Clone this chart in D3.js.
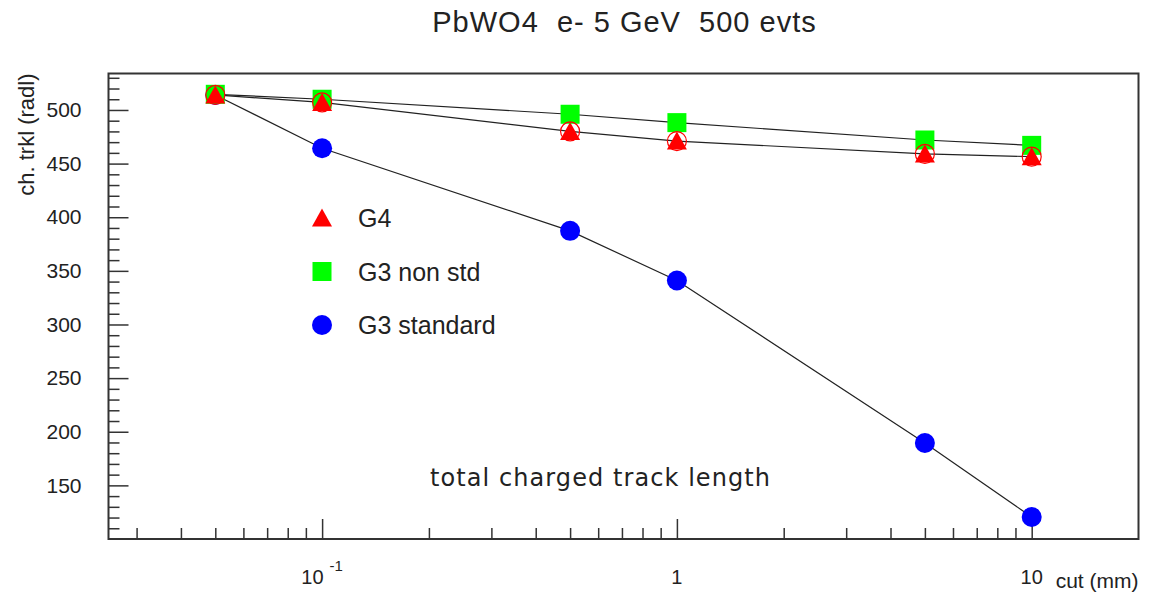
<!DOCTYPE html>
<html>
<head>
<meta charset="utf-8">
<script src="https://cdn.jsdelivr.net/npm/d3@7/dist/d3.min.js"></script>
<style>
  html, body { margin: 0; padding: 0; background: #fff; }
  svg { display: block; }
  text { font-family: "Liberation Sans", Arial, Helvetica, sans-serif; fill: #222; }
</style>
</head>
<body>
<svg id="chart" width="1151" height="595"></svg>
<script>
// Production cut (mm) for each simulation run
const cuts = [0.05, 0.1, 0.5, 1, 5, 10];

// Total charged track length (radiation lengths) per run
const g4 = [514, 507, 480, 471, 459, 456.5];
const g3NonStd = [514.6, 510, 496, 488.2, 472, 467];
const g3Standard = [514, 464.3, 387.3, 341, 189.5, 120.5];

// Axis ticks and labels
const yMajorTicks = [150, 200, 250, 300, 350, 400, 450, 500];
const yMinorTicks = d3.range(110, 531, 10).filter(v => v % 50 !== 0);
const xMajorTicks = [0.1, 1, 10];
const xMinorTicks = [0.03, 0.04, 0.05, 0.06, 0.07, 0.08, 0.09,
                     0.2, 0.3, 0.4, 0.5, 0.6, 0.7, 0.8, 0.9,
                     2, 3, 4, 5, 6, 7, 8, 9];
const xTickLabels = [{v: 0.1, base: "10", exp: "-1"}, {v: 1, base: "1", exp: ""}, {v: 10, base: "10", exp: ""}];

const legendItems = [
  {label: "G4", shape: "triangle", color: "#ff0000"},
  {label: "G3 non std", shape: "square", color: "#00ff00"},
  {label: "G3 standard", shape: "circle", color: "#0000ff"}
];

const svg = d3.select("#chart");
const frame = {left: 108.5, right: 1138.5, top: 73.5, bottom: 539};

const x = d3.scaleLog().domain([0.025, 20]).range([frame.left, frame.right]);
const y = d3.scaleLinear().domain([100, 534]).range([frame.bottom, frame.top]);

// Title
svg.append("text")
  .attr("x", (frame.left + frame.right) / 2 + 1)
  .attr("y", 31.5)
  .attr("text-anchor", "middle")
  .style("white-space", "pre")
  .style("font-size", "29px")
  .style("letter-spacing", "1px")
  .attr("fill", "#111")
  .text("PbWO4  e- 5 GeV  500 evts");

// Y axis: major and minor ticks pointing inward
const yAxisMajor = d3.axisLeft(y).tickValues(yMajorTicks).tickSize(-20).tickPadding(27)
  .tickFormat(d3.format("d"));
const yAxisMinor = d3.axisLeft(y).tickValues(yMinorTicks).tickSize(-11).tickFormat("");

const gyMaj = svg.append("g").attr("transform", `translate(${frame.left},0)`).call(yAxisMajor);
const gyMin = svg.append("g").attr("transform", `translate(${frame.left},0)`).call(yAxisMinor);
[gyMaj, gyMin].forEach(g => {
  g.select(".domain").remove();
  g.selectAll(".tick line").attr("stroke", "#333").attr("stroke-width", 1.5);
});
gyMaj.selectAll(".tick text")
  .style("font-size", "21px")
  .style("font-family", "'Liberation Sans', Arial, sans-serif")
  .attr("fill", "#222");

// X axis: major and minor ticks pointing inward
const xAxisMajor = d3.axisBottom(x).tickValues(xMajorTicks).tickSize(-20).tickFormat("");
const xAxisMinor = d3.axisBottom(x).tickValues(xMinorTicks).tickSize(-11).tickFormat("");
const gxMaj = svg.append("g").attr("transform", `translate(0,${frame.bottom})`).call(xAxisMajor);
const gxMin = svg.append("g").attr("transform", `translate(0,${frame.bottom})`).call(xAxisMinor);
[gxMaj, gxMin].forEach(g => {
  g.select(".domain").remove();
  g.selectAll(".tick line").attr("stroke", "#333").attr("stroke-width", 1.5);
});

// X tick labels (powers of ten)
const xl = svg.append("g");
xTickLabels.forEach(d => {
  const t = xl.append("text")
    .attr("x", x(d.v))
    .attr("y", 583.5)
    .attr("text-anchor", "middle")
    .style("font-size", "20px");
  t.append("tspan").text(d.base);
  if (d.exp) {
    t.append("tspan").attr("dx", 6).attr("dy", -13).style("font-size", "15px").text(d.exp);
  }
});

// X axis title
svg.append("text")
  .attr("x", frame.right)
  .attr("y", 588)
  .attr("text-anchor", "end")
  .style("font-size", "21px")
  .text("cut (mm)");

// Y axis title
svg.append("text")
  .attr("transform", `translate(34,${frame.top}) rotate(-90)`)
  .attr("text-anchor", "end")
  .style("font-size", "22px")
  .text("ch. trkl (radl)");

// Frame
svg.append("rect")
  .attr("x", frame.left).attr("y", frame.top)
  .attr("width", frame.right - frame.left).attr("height", frame.bottom - frame.top)
  .attr("fill", "none").attr("stroke", "#333").attr("stroke-width", 2);

// Annotation
svg.append("text")
  .attr("x", 430)
  .attr("y", 485.5)
  .attr("textLength", 340)
  .attr("lengthAdjust", "spacing")
  .style("font-family", "'DejaVu Sans', sans-serif")
  .style("font-size", "24px")
  .attr("fill", "#333")
  .text("total charged track length");

// Connecting lines
const line = d3.line().x(d => x(d[0])).y(d => y(d[1]));
const zipped = vals => cuts.map((c, i) => [c, vals[i]]);
const plot = svg.append("g");
[g3Standard, g3NonStd, g4].forEach(vals => {
  plot.append("path")
    .datum(zipped(vals))
    .attr("d", line)
    .attr("fill", "none")
    .attr("stroke", "#222")
    .attr("stroke-width", 1.2);
});

// Marker shapes
function drawTriangle(g, cx, cy, color) {
  g.append("path")
    .attr("d", "M0,-9.5 L10,8.5 L-10,8.5 Z")
    .attr("transform", `translate(${cx},${cy})`)
    .attr("fill", color);
}
function drawSquare(g, cx, cy, color) {
  g.append("rect")
    .attr("x", cx - 9.5).attr("y", cy - 9.5)
    .attr("width", 19).attr("height", 19)
    .attr("fill", color);
}
function drawCircle(g, cx, cy, color) {
  g.append("circle").attr("cx", cx).attr("cy", cy).attr("r", 10).attr("fill", color);
}

// Markers: G3 standard, G3 non std, then G4 (triangle with open circle)
const marks = svg.append("g");
zipped(g3Standard).forEach(d => drawCircle(marks, x(d[0]), y(d[1]), "#0000ff"));
zipped(g3NonStd).forEach(d => drawSquare(marks, x(d[0]), y(d[1]), "#00ff00"));
zipped(g4).forEach(d => {
  drawTriangle(marks, x(d[0]), y(d[1]), "#ff0000");
  marks.append("circle")
    .attr("cx", x(d[0])).attr("cy", y(d[1])).attr("r", 9.5)
    .attr("fill", "none").attr("stroke", "#ff0000").attr("stroke-width", 1.2);
});

// Legend
const legend = svg.append("g").attr("transform", "translate(322,218)");
legendItems.forEach((d, i) => {
  const gy = i * 53.5;
  if (d.shape === "triangle") drawTriangle(legend, 0, gy, d.color);
  if (d.shape === "square") drawSquare(legend, 0, gy, d.color);
  if (d.shape === "circle") drawCircle(legend, 0, gy, d.color);
  legend.append("text")
    .attr("x", 36)
    .attr("y", gy + 9)
    .style("font-size", "25px")
    .text(d.label);
});
</script>
</body>
</html>
